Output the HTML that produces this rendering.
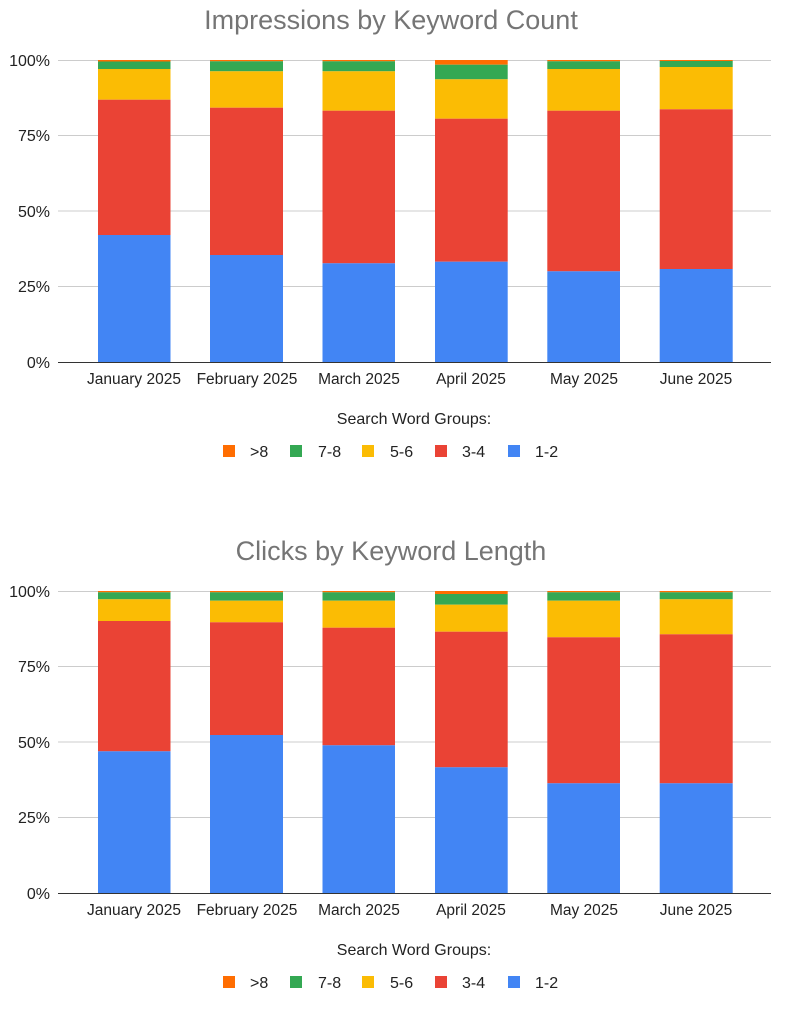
<!DOCTYPE html>
<html><head><meta charset="utf-8"><style>
html,body{margin:0;padding:0;background:#fff;}
svg{display:block;font-family:"Liberation Sans",Arial,sans-serif;}
</style></head><body>
<svg width="799" height="1024" viewBox="0 0 799 1024" xmlns="http://www.w3.org/2000/svg">
<defs>
<g id="grid">
<line x1="58" x2="771" y1="60.5" y2="60.5" stroke="#ccc" stroke-width="1"/>
<line x1="58" x2="771" y1="135.5" y2="135.5" stroke="#ccc" stroke-width="1"/>
<line x1="58" x2="771" y1="211" y2="211" stroke="#ccc" stroke-width="1"/>
<line x1="58" x2="771" y1="286.5" y2="286.5" stroke="#ccc" stroke-width="1"/>
<g font-size="16" fill="#222" text-anchor="end">
<text x="50" y="66">100%</text><text x="50" y="141">75%</text><text x="50" y="217">50%</text><text x="50" y="292">25%</text><text x="50" y="368">0%</text>
</g>
<g font-size="15.5" fill="#222" text-anchor="middle">
<text x="134" y="384">January 2025</text><text x="247" y="384">February 2025</text><text x="359" y="384">March 2025</text><text x="471" y="384">April 2025</text><text x="584" y="384">May 2025</text><text x="696" y="384">June 2025</text>
</g>
<text x="414" y="424" font-size="16" fill="#222" text-anchor="middle">Search Word Groups:</text>
<g font-size="16" fill="#222">
<rect x="223" y="445" width="12" height="12" fill="#ff6d01"/><text x="250" y="457">&gt;8</text>
<rect x="290" y="445" width="12" height="12" fill="#34a853"/><text x="318" y="457">7-8</text>
<rect x="362" y="445" width="12" height="12" fill="#fbbc04"/><text x="390" y="457">5-6</text>
<rect x="435" y="445" width="12" height="12" fill="#ea4335"/><text x="462" y="457">3-4</text>
<rect x="508" y="445" width="12" height="12" fill="#4285f4"/><text x="535" y="457">1-2</text>
</g>
</g>
</defs>

<text x="391" y="29" font-size="27" fill="#757575" text-anchor="middle">Impressions by Keyword Count</text>
<use href="#grid"/>
<g>
<rect x="98" y="60" width="72.5" height="1.5" fill="#ff6d01"/>
<rect x="98" y="61.5" width="72.5" height="7.5" fill="#34a853"/>
<rect x="98" y="69" width="72.5" height="30.7" fill="#fbbc04"/>
<rect x="98" y="99.7" width="72.5" height="135.3" fill="#ea4335"/>
<rect x="98" y="235" width="72.5" height="127" fill="#4285f4"/>
<rect x="210" y="60" width="73" height="1.3" fill="#ff6d01"/>
<rect x="210" y="61.3" width="73" height="10" fill="#34a853"/>
<rect x="210" y="71.3" width="73" height="36.4" fill="#fbbc04"/>
<rect x="210" y="107.7" width="73" height="147.3" fill="#ea4335"/>
<rect x="210" y="255" width="73" height="107" fill="#4285f4"/>
<rect x="322.5" y="60" width="72.5" height="1.3" fill="#ff6d01"/>
<rect x="322.5" y="61.3" width="72.5" height="10" fill="#34a853"/>
<rect x="322.5" y="71.3" width="72.5" height="39.4" fill="#fbbc04"/>
<rect x="322.5" y="110.7" width="72.5" height="152.6" fill="#ea4335"/>
<rect x="322.5" y="263.3" width="72.5" height="98.7" fill="#4285f4"/>
<rect x="435" y="60" width="72.7" height="4.7" fill="#ff6d01"/>
<rect x="435" y="64.7" width="72.7" height="14.6" fill="#34a853"/>
<rect x="435" y="79.3" width="72.7" height="39.4" fill="#fbbc04"/>
<rect x="435" y="118.7" width="72.7" height="143" fill="#ea4335"/>
<rect x="435" y="261.7" width="72.7" height="100.3" fill="#4285f4"/>
<rect x="547.3" y="60" width="72.7" height="1.3" fill="#ff6d01"/>
<rect x="547.3" y="61.3" width="72.7" height="7.7" fill="#34a853"/>
<rect x="547.3" y="69" width="72.7" height="41.7" fill="#fbbc04"/>
<rect x="547.3" y="110.7" width="72.7" height="160.6" fill="#ea4335"/>
<rect x="547.3" y="271.3" width="72.7" height="90.7" fill="#4285f4"/>
<rect x="659.7" y="60" width="73" height="1" fill="#ff6d01"/>
<rect x="659.7" y="61" width="73" height="6" fill="#34a853"/>
<rect x="659.7" y="67" width="73" height="42.3" fill="#fbbc04"/>
<rect x="659.7" y="109.3" width="73" height="159.7" fill="#ea4335"/>
<rect x="659.7" y="269" width="73" height="93" fill="#4285f4"/>
</g>
<line x1="58" x2="771" y1="362.5" y2="362.5" stroke="#333" stroke-width="1"/>

<text x="391" y="560" font-size="27" fill="#757575" text-anchor="middle">Clicks by Keyword Length</text>
<use href="#grid" transform="translate(0,531)"/>
<g>
<rect x="98" y="591" width="72.5" height="1.3" fill="#ff6d01"/>
<rect x="98" y="592.3" width="72.5" height="7" fill="#34a853"/>
<rect x="98" y="599.3" width="72.5" height="21.7" fill="#fbbc04"/>
<rect x="98" y="621" width="72.5" height="130.3" fill="#ea4335"/>
<rect x="98" y="751.3" width="72.5" height="141.7" fill="#4285f4"/>
<rect x="210" y="591" width="73" height="1.3" fill="#ff6d01"/>
<rect x="210" y="592.3" width="73" height="8.4" fill="#34a853"/>
<rect x="210" y="600.7" width="73" height="21.6" fill="#fbbc04"/>
<rect x="210" y="622.3" width="73" height="112.7" fill="#ea4335"/>
<rect x="210" y="735" width="73" height="158" fill="#4285f4"/>
<rect x="322.5" y="591" width="72.5" height="1.3" fill="#ff6d01"/>
<rect x="322.5" y="592.3" width="72.5" height="8.4" fill="#34a853"/>
<rect x="322.5" y="600.7" width="72.5" height="27" fill="#fbbc04"/>
<rect x="322.5" y="627.7" width="72.5" height="117.6" fill="#ea4335"/>
<rect x="322.5" y="745.3" width="72.5" height="147.7" fill="#4285f4"/>
<rect x="435" y="591" width="72.7" height="3" fill="#ff6d01"/>
<rect x="435" y="594" width="72.7" height="10.7" fill="#34a853"/>
<rect x="435" y="604.7" width="72.7" height="27" fill="#fbbc04"/>
<rect x="435" y="631.7" width="72.7" height="135.6" fill="#ea4335"/>
<rect x="435" y="767.3" width="72.7" height="125.7" fill="#4285f4"/>
<rect x="547.3" y="591" width="72.7" height="1.3" fill="#ff6d01"/>
<rect x="547.3" y="592.3" width="72.7" height="8.4" fill="#34a853"/>
<rect x="547.3" y="600.7" width="72.7" height="36.6" fill="#fbbc04"/>
<rect x="547.3" y="637.3" width="72.7" height="146" fill="#ea4335"/>
<rect x="547.3" y="783.3" width="72.7" height="109.7" fill="#4285f4"/>
<rect x="659.7" y="591" width="73" height="1.3" fill="#ff6d01"/>
<rect x="659.7" y="592.3" width="73" height="7" fill="#34a853"/>
<rect x="659.7" y="599.3" width="73" height="35" fill="#fbbc04"/>
<rect x="659.7" y="634.3" width="73" height="149" fill="#ea4335"/>
<rect x="659.7" y="783.3" width="73" height="109.7" fill="#4285f4"/>
</g>
<line x1="58" x2="771" y1="893.5" y2="893.5" stroke="#333" stroke-width="1"/>
</svg>
</body></html>
